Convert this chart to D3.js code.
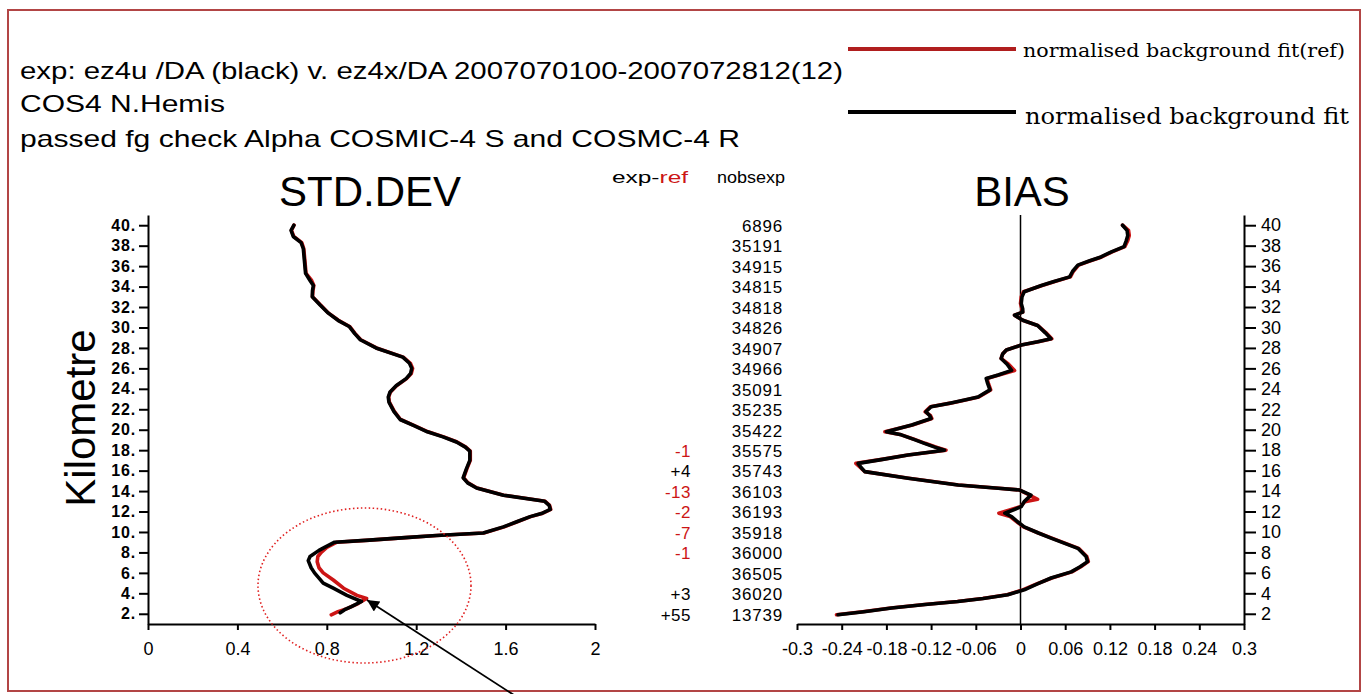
<!DOCTYPE html>
<html><head><meta charset="utf-8">
<script src="https://cdn.jsdelivr.net/npm/d3@7"></script>
<style>
body{margin:0;background:#fff}
svg{display:block}
text{font-family:"Liberation Sans",Arial,sans-serif;fill:#000}
</style>
</head><body>
<svg id="c" width="1363" height="694"></svg>
<script>
// ---------- data ----------
const headerLines = [
  "exp: ez4u /DA (black)  v. ez4x/DA 2007070100-2007072812(12)",
  "COS4  N.Hemis",
  "passed fg check Alpha COSMIC-4 S and COSMC-4 R"
];
const legendLabels = ["normalised background fit(ref)", "normalised background fit"];
const yTicks = [40,38,36,34,32,30,28,26,24,22,20,18,16,14,12,10,8,6,4,2];
const stdTicks = [0,0.4,0.8,1.2,1.6,2];
const stdTickLabels = ["0","0.4","0.8","1.2","1.6","2"];
const biasTicks = [-0.3,-0.24,-0.18,-0.12,-0.06,0,0.06,0.12,0.18,0.24,0.3];
const biasTickLabels = ["-0.3","-0.24","-0.18","-0.12","-0.06","0","0.06","0.12","0.18","0.24","0.3"];
const nobsexp = [6896,35191,34915,34815,34818,34826,34907,34966,35091,35235,35422,35575,35743,36103,36193,35918,36000,36505,36020,13739];
const expRefHeights = [18,16,14,12,10,8,4,2];
const expRefValues = ["-1","+4","-13","-2","-7","-1","+3","+55"];

// STD.DEV, experiment (black)
const stdExpH = [40.0,39.5,38.9,38.3,37.7,36.5,35.3,34.6,34.1,33.6,33.0,32.2,31.4,30.7,30.1,29.4,28.8,28.0,27.1,26.5,26.0,25.5,25.0,24.3,23.7,23.2,22.7,21.8,21.0,20.4,19.8,19.3,18.8,18.3,17.9,17.0,16.2,15.3,14.8,14.3,13.6,13.0,12.6,12.2,11.8,11.5,11.0,10.5,9.9,9.65,9.45,9.2,9.0,8.5,8.2,7.6,7.2,6.5,6.0,5.0,4.5,3.8,3.2,2.7,2.4,2.1];
const stdExpV = [0.653,0.640,0.650,0.685,0.695,0.700,0.705,0.725,0.740,0.736,0.735,0.770,0.807,0.850,0.900,0.925,0.950,1.020,1.140,1.170,1.180,1.175,1.155,1.110,1.083,1.075,1.078,1.100,1.128,1.190,1.250,1.320,1.380,1.420,1.440,1.440,1.425,1.410,1.430,1.470,1.590,1.775,1.795,1.800,1.760,1.710,1.650,1.590,1.500,1.290,1.150,0.990,0.835,0.790,0.765,0.725,0.717,0.730,0.745,0.784,0.829,0.890,0.955,0.910,0.880,0.860];
// STD.DEV, reference (red)
const stdRefH = [40.0,39.5,38.9,38.3,37.7,36.5,35.3,34.6,34.1,33.6,33.0,32.2,31.4,30.7,30.1,29.4,28.8,28.0,27.1,26.5,26.0,25.5,25.0,24.3,23.7,23.2,22.7,21.8,21.0,20.4,19.8,19.3,18.8,18.3,17.9,17.0,16.2,15.3,14.8,14.3,13.6,13.0,12.6,12.2,11.8,11.5,11.0,10.5,9.9,9.65,9.45,9.2,9.0,8.5,8.0,7.6,7.1,6.5,6.0,5.3,4.5,3.8,3.5,3.0,2.5,2.2,1.9];
const stdRefV = [0.653,0.642,0.652,0.688,0.697,0.702,0.707,0.732,0.742,0.738,0.736,0.772,0.808,0.852,0.902,0.927,0.952,1.022,1.142,1.174,1.184,1.178,1.157,1.112,1.085,1.077,1.080,1.102,1.130,1.192,1.253,1.323,1.383,1.422,1.442,1.442,1.427,1.412,1.432,1.472,1.592,1.777,1.797,1.802,1.762,1.712,1.652,1.594,1.502,1.292,1.152,0.992,0.845,0.800,0.775,0.760,0.757,0.765,0.784,0.829,0.875,0.935,0.978,0.940,0.890,0.850,0.820];

// BIAS, experiment (black)
const biasExpH = [40.0,39.5,39.0,38.5,37.9,37.4,36.9,36.5,36.1,35.5,34.95,34.5,34.1,33.5,33.0,32.35,31.8,31.5,31.2,30.7,30.2,29.5,28.9,28.6,28.28,27.8,27.4,26.97,26.4,25.8,25.35,25.02,24.5,23.9,23.2,22.9,22.6,22.25,21.76,21.4,21.1,20.46,19.8,19.5,19.1,18.67,18.3,18.0,17.53,17.1,16.71,16.3,15.9,15.25,14.6,14.28,14.1,13.6,12.97,12.48,11.83,11.5,11.0,10.5,9.9,9.4,8.4,7.6,7.1,6.6,6.1,5.5,4.9,4.34,3.86,3.5,3.2,2.9,2.56,2.2,1.9];
const biasExpV = [0.137,0.143,0.144,0.142,0.139,0.122,0.108,0.092,0.077,0.070,0.066,0.045,0.028,0.005,0.002,0.001,0.003,0.003,-0.008,0.003,0.023,0.033,0.041,0.023,0.001,-0.019,-0.024,-0.026,-0.018,-0.012,-0.030,-0.046,-0.044,-0.041,-0.057,-0.075,-0.095,-0.120,-0.127,-0.122,-0.120,-0.146,-0.180,-0.160,-0.145,-0.129,-0.115,-0.102,-0.151,-0.185,-0.218,-0.214,-0.209,-0.151,-0.084,-0.030,-0.001,0.014,0.005,0.001,-0.021,-0.012,-0.004,0.005,0.024,0.041,0.077,0.088,0.090,0.080,0.068,0.041,0.022,0.005,-0.017,-0.050,-0.084,-0.128,-0.173,-0.210,-0.245];
// BIAS, reference (red)
const biasRefH = [40.0,39.5,39.0,38.5,37.9,37.4,36.9,36.5,36.1,35.5,34.95,34.5,34.1,33.5,33.0,32.35,31.8,31.5,31.2,30.7,30.2,29.5,28.9,28.6,28.28,27.8,27.4,26.97,26.4,25.8,25.35,25.02,24.5,23.9,23.2,22.9,22.6,22.25,21.76,21.4,21.1,20.46,19.8,19.5,19.1,18.67,18.3,18.0,17.53,17.1,16.71,16.3,15.9,15.25,14.6,14.28,14.1,13.2,12.97,12.48,11.83,11.5,11.0,10.5,9.9,9.4,8.4,7.6,7.1,6.6,6.1,5.5,4.9,4.34,3.86,3.5,3.2,2.9,2.56,2.2,1.9];
const biasRefV = [0.137,0.145,0.146,0.144,0.140,0.123,0.109,0.093,0.078,0.071,0.067,0.046,0.029,0.004,0.001,0.000,0.002,0.003,-0.008,0.003,0.023,0.034,0.042,0.024,0.001,-0.019,-0.024,-0.026,-0.016,-0.008,-0.029,-0.045,-0.043,-0.040,-0.056,-0.074,-0.094,-0.121,-0.128,-0.121,-0.119,-0.145,-0.182,-0.160,-0.144,-0.128,-0.113,-0.100,-0.151,-0.186,-0.221,-0.215,-0.209,-0.150,-0.083,-0.029,-0.001,0.023,0.006,0.000,-0.029,-0.014,-0.005,0.004,0.024,0.042,0.078,0.089,0.091,0.081,0.069,0.042,0.021,0.003,-0.018,-0.051,-0.085,-0.129,-0.174,-0.212,-0.247];

// ---------- drawing ----------
const svg = d3.select("#c");
const RED = "#cc1515";

// frame
svg.append("rect").attr("x",8).attr("y",10).attr("width",1352).attr("height",681)
  .attr("fill","none").attr("stroke","#b24545").attr("stroke-width",2);

// header text
const hdrY = [79,112,147], hdrW = [823,205,720];
headerLines.forEach((t,i)=>{
  svg.append("text").attr("x",20).attr("y",hdrY[i]).attr("font-size",24)
    .attr("textLength",hdrW[i]).attr("lengthAdjust","spacingAndGlyphs").text(t);
});

// legend
svg.append("line").attr("x1",848).attr("x2",1016).attr("y1",49).attr("y2",49)
  .attr("stroke","#b01e1e").attr("stroke-width",4);
svg.append("line").attr("x1",848).attr("x2",1016).attr("y1",112).attr("y2",112)
  .attr("stroke","#000").attr("stroke-width",4);
svg.append("text").attr("x",1023).attr("y",57).attr("font-size",18)
  .style("font-family","'DejaVu Serif',serif").attr("textLength",322).attr("lengthAdjust","spacingAndGlyphs").text(legendLabels[0]);
svg.append("text").attr("x",1025).attr("y",124).attr("font-size",22)
  .style("font-family","'DejaVu Serif',serif").attr("textLength",324).attr("lengthAdjust","spacingAndGlyphs").text(legendLabels[1]);

// scales
const yStd = d3.scaleLinear().domain([1,41]).range([624,215]);
const xStd = d3.scaleLinear().domain([0,2]).range([148,595]);
const xBias = d3.scaleLinear().domain([-0.3,0.3]).range([797,1244]);

// titles
svg.append("text").attr("x",370).attr("y",206).attr("font-size",42).attr("text-anchor","middle").text("STD.DEV");
svg.append("text").attr("x",1022).attr("y",206).attr("font-size",42).attr("text-anchor","middle").text("BIAS");
svg.append("text").attr("transform","translate(95,418) rotate(-90)").attr("font-size",42)
  .attr("text-anchor","middle").text("Kilometre");

function styleAxis(g, fs, weight, ls){
  g.select(".domain").attr("stroke","#000").attr("stroke-width",2);
  g.selectAll(".tick line").attr("stroke","#000").attr("stroke-width",2);
  g.selectAll(".tick text").attr("font-size",fs).attr("font-weight",weight)
    .style("letter-spacing",ls+"px").attr("font-family","'Liberation Sans',Arial,sans-serif").attr("fill","#000");
}

// STD axes
const gyl = svg.append("g").attr("transform","translate(148,0)")
  .call(d3.axisLeft(yStd).tickValues(yTicks).tickFormat(d=>d+".").tickSize(9).tickSizeOuter(0).tickPadding(3));
styleAxis(gyl,16,"bold",0.8);
const gxs = svg.append("g").attr("transform","translate(0,624)")
  .call(d3.axisBottom(xStd).tickValues(stdTicks).tickFormat((d,i)=>stdTickLabels[i]).tickSize(6).tickSizeOuter(0).tickPadding(12));
styleAxis(gxs,18,"normal",0);

// BIAS axes
const gyr = svg.append("g").attr("transform","translate(1244,0)")
  .call(d3.axisRight(yStd).tickValues(yTicks).tickFormat(d=>d).tickSize(12).tickSizeOuter(0).tickPadding(5));
styleAxis(gyr,18,"normal",0);
const gxb = svg.append("g").attr("transform","translate(0,624)")
  .call(d3.axisBottom(xBias).tickValues(biasTicks).tickFormat((d,i)=>biasTickLabels[i]).tickSize(6).tickSizeOuter(0).tickPadding(12));
styleAxis(gxb,18,"normal",0);

// zero line
svg.append("line").attr("x1",xBias(0)).attr("x2",xBias(0)).attr("y1",yStd(41)).attr("y2",yStd(1))
  .attr("stroke","#000").attr("stroke-width",1.5);

// curves
const toPts = (H,V)=>H.map((h,i)=>({h,v:V[i]}));
const lineStd = d3.line().x(d=>xStd(d.v)).y(d=>yStd(d.h));
const lineBias = d3.line().x(d=>xBias(d.v)).y(d=>yStd(d.h));
function curve(gen, pts, col){
  svg.append("path").datum(pts).attr("d",gen).attr("fill","none").attr("stroke",col)
    .attr("stroke-width",3.6).attr("stroke-linejoin","round").attr("stroke-linecap","round");
}
curve(lineStd, toPts(stdRefH,stdRefV), RED);
curve(lineStd, toPts(stdExpH,stdExpV), "#000");
curve(lineBias, toPts(biasRefH,biasRefV), RED);
curve(lineBias, toPts(biasExpH,biasExpV), "#000");

// middle column headers
const hdr = svg.append("text").attr("x",612).attr("y",183).attr("font-size",16)
  .attr("textLength",76).attr("lengthAdjust","spacingAndGlyphs");
hdr.append("tspan").text("exp-");
hdr.append("tspan").attr("fill",RED).style("fill",RED).text("ref");
svg.append("text").attr("x",717).attr("y",183).attr("font-size",16)
  .attr("textLength",68).attr("lengthAdjust","spacingAndGlyphs").text("nobsexp");

// nobsexp column
svg.append("g").selectAll("text").data(nobsexp).join("text")
  .attr("x",783).attr("y",(d,i)=>yStd(yTicks[i])).attr("dy","0.4em")
  .attr("text-anchor","end").attr("font-size",17).style("letter-spacing","0.8px").text(d=>d);

// exp-ref column
svg.append("g").selectAll("text").data(expRefValues).join("text")
  .attr("x",691).attr("y",(d,i)=>yStd(expRefHeights[i])).attr("dy","0.4em")
  .attr("text-anchor","end").attr("font-size",17).style("letter-spacing","0.5px")
  .style("fill",d=>d[0]==="-"?RED:"#000").text(d=>d);

// annotation: dotted ellipse + arrow
svg.append("ellipse").attr("cx",364.5).attr("cy",585.5).attr("rx",106.5).attr("ry",77.5)
  .attr("fill","none").attr("stroke","#e02020").attr("stroke-width",1.6).attr("stroke-dasharray","1.5 2.5");
svg.append("defs").append("marker").attr("id","ah").attr("viewBox","0 0 10 10")
  .attr("refX",10).attr("refY",5).attr("markerWidth",16).attr("markerHeight",12)
  .attr("markerUnits","userSpaceOnUse").attr("orient","auto")
  .append("path").attr("d","M0,0L10,5L0,10z").attr("fill","#000");
svg.append("line").attr("x1",517).attr("y1",697).attr("x2",367).attr("y2",600)
  .attr("stroke","#000").attr("stroke-width",1.8).attr("marker-end","url(#ah)");
</script>
</body></html>
